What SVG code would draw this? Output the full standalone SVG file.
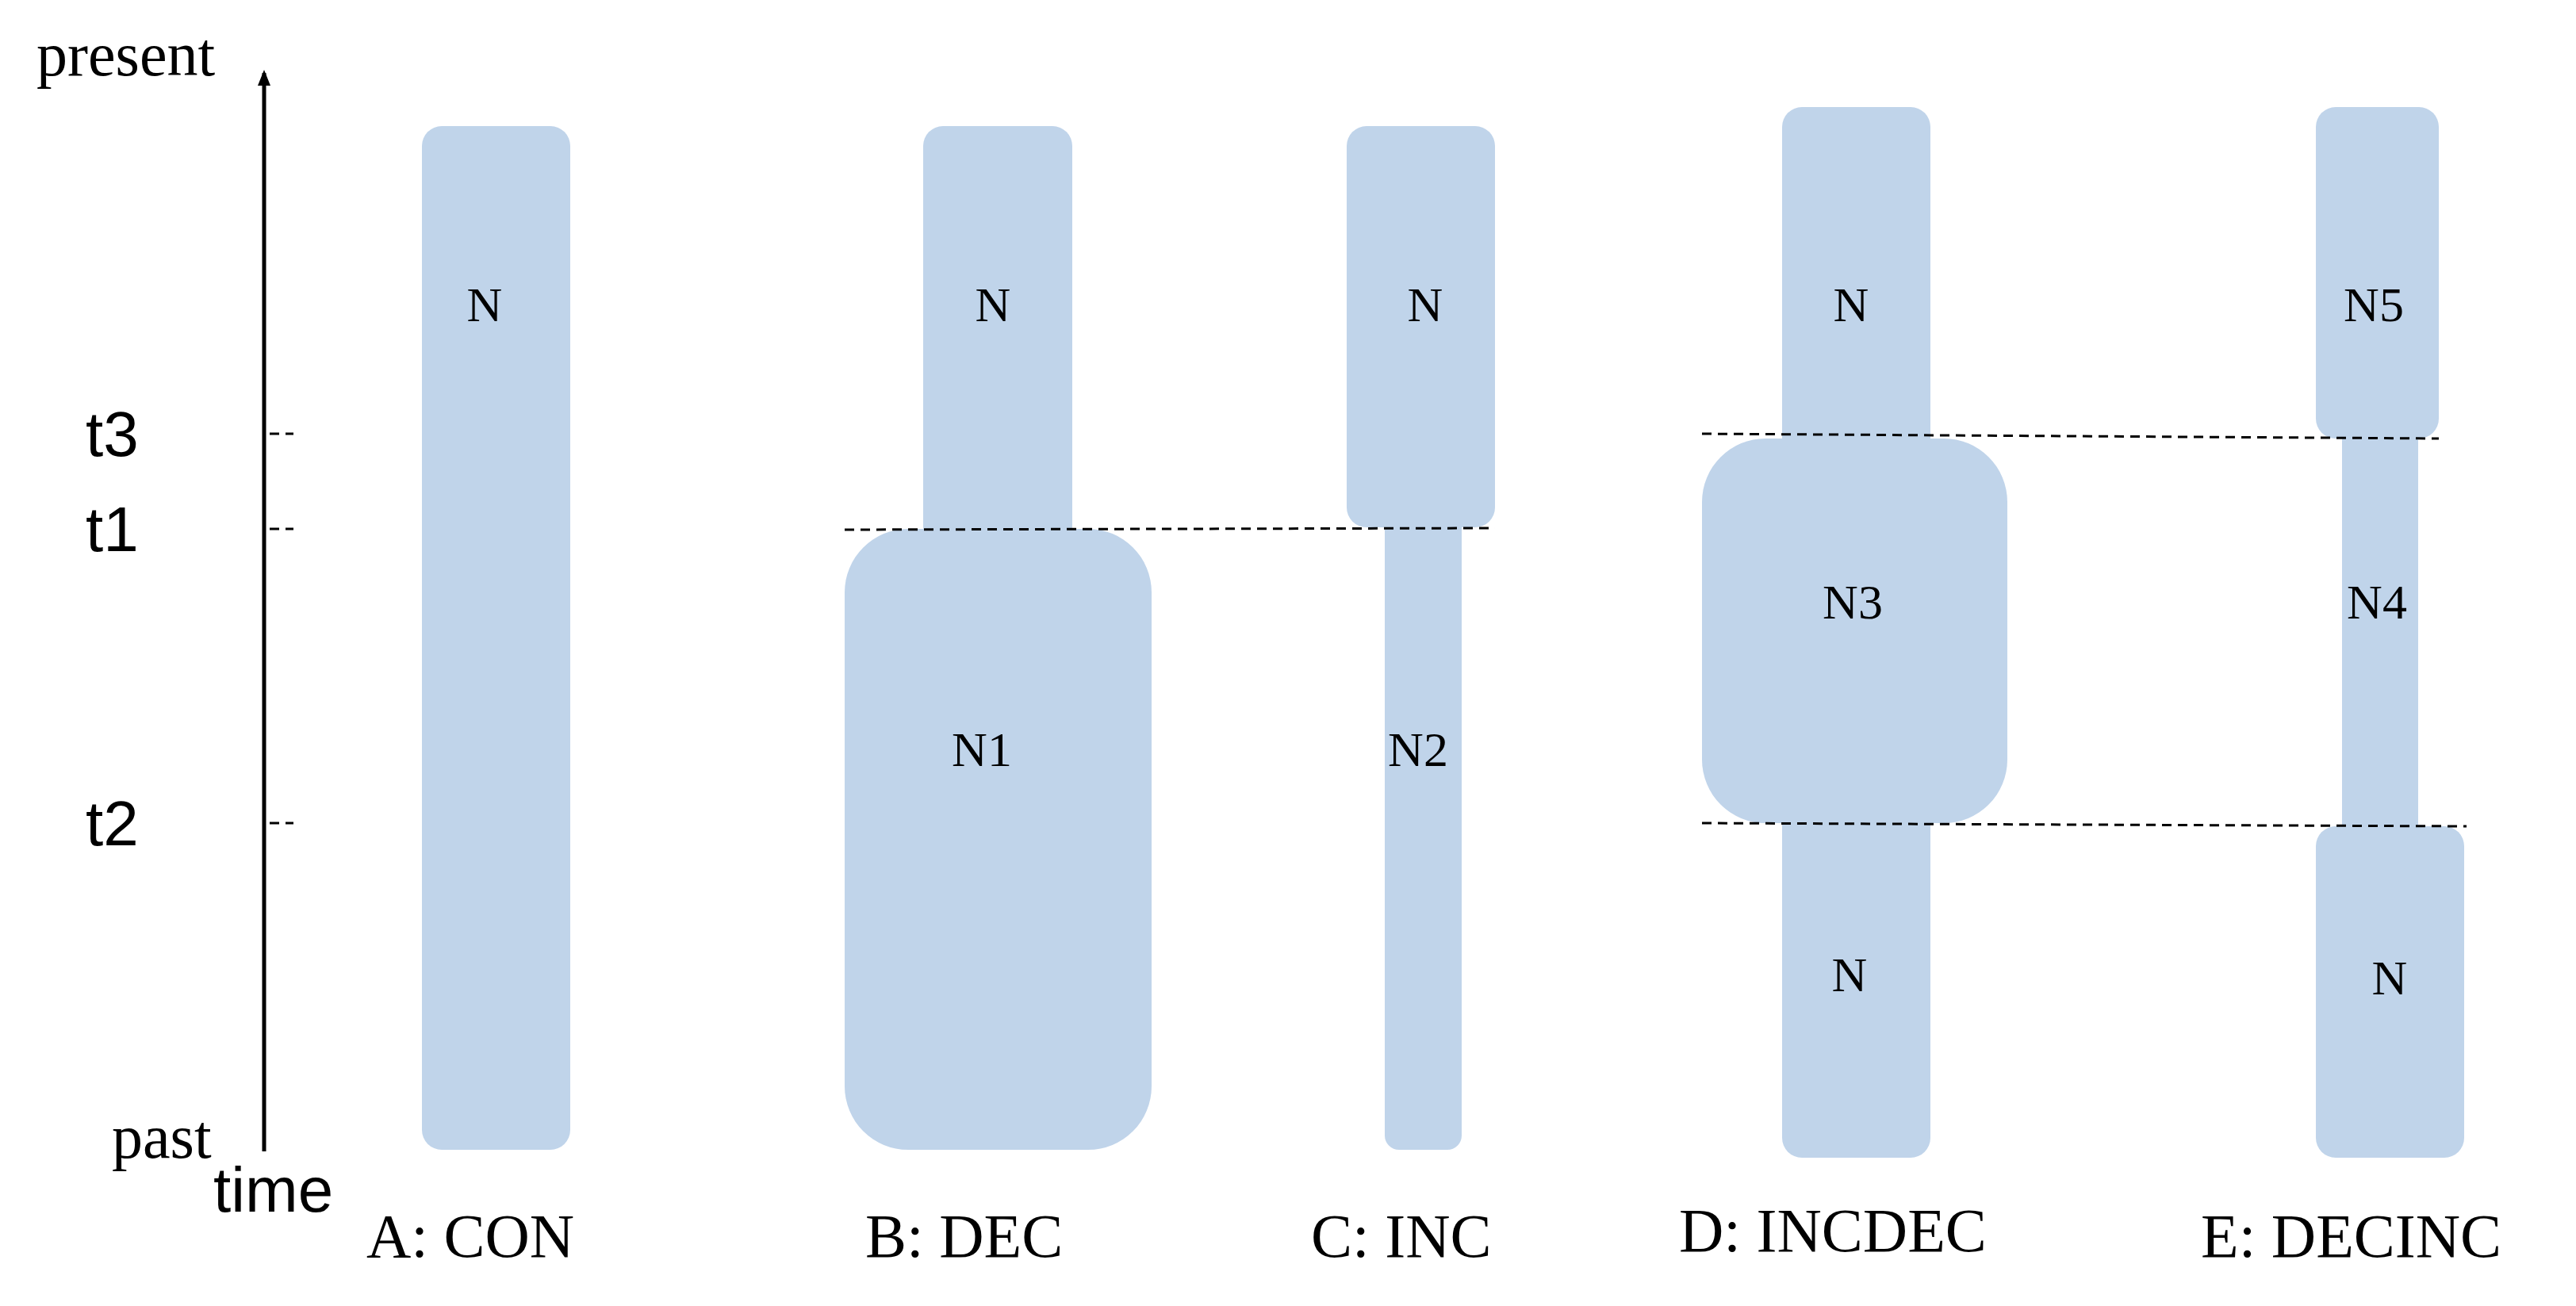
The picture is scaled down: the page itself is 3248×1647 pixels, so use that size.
<svg xmlns="http://www.w3.org/2000/svg" width="3248" height="1647" viewBox="0 0 3248 1647">
<defs>
<style>
.b{fill:#c0d4ea}
.n{font-family:"Liberation Serif",serif;font-size:62px;fill:#000;text-anchor:middle}
.c{font-family:"Liberation Serif",serif;font-size:78px;fill:#000}
.t{font-family:"Liberation Sans",sans-serif;font-size:80px;fill:#000}
.d{stroke:#000;stroke-width:3;stroke-dasharray:12 8;fill:none}
</style>
<marker id="ar" markerWidth="10" markerHeight="10" refX="5" refY="8" orient="auto" markerUnits="userSpaceOnUse" viewBox="0 0 10 10"><path d="M0,10 L5,0 L10,10 Z" fill="#000"/></marker>
</defs>
<rect width="3248" height="1647" fill="#fff"/>
<g id="axis">
<line x1="333" y1="1452" x2="333" y2="92" stroke="#000" stroke-width="5"/>
<path d="M325,108 L333,88 L341,108 Z" fill="#000"/>
<line x1="340" y1="547" x2="370" y2="547" class="d" stroke-dasharray="6 6"/>
<line x1="340" y1="667" x2="370" y2="667" class="d" stroke-dasharray="6 6"/>
<line x1="340" y1="1038" x2="370" y2="1038" class="d" stroke-dasharray="6 6"/>
<text x="46" y="95" class="c" font-size="72">present</text>
<text x="141" y="1460" class="c" font-size="72">past</text>
<text x="269" y="1528" class="t" font-size="72">time</text>
<text x="108" y="575" class="t">t3</text>
<text x="108" y="695" class="t">t1</text>
<text x="108" y="1066" class="t">t2</text>
</g>
<g id="A">
<rect class="b" x="532" y="159" width="187" height="1291" rx="25"/>
<text class="n" x="611" y="405">N</text>
<text class="c" x="462" y="1585">A: CON</text>
</g>
<g id="B">
<rect class="b" x="1164" y="159" width="188" height="530" rx="25"/>
<rect class="b" x="1065" y="667" width="387" height="783" rx="80"/>
<text class="n" x="1252" y="405">N</text>
<text class="n" x="1238" y="966">N1</text>
<text class="c" x="1091" y="1585">B: DEC</text>
</g>
<g id="C">
<rect class="b" x="1746" y="600" width="97" height="850" rx="18"/>
<rect class="b" x="1698" y="159" width="187" height="506" rx="25"/>
<text class="n" x="1797" y="405">N</text>
<text class="n" x="1788" y="966">N2</text>
<text class="c" x="1653" y="1585">C: INC</text>
</g>
<g id="D">
<rect class="b" x="2247" y="135" width="187" height="1325" rx="25"/>
<rect class="b" x="2146" y="553" width="385" height="485" rx="80"/>
<text class="n" x="2334" y="405">N</text>
<text class="n" x="2336" y="780">N3</text>
<text class="n" x="2332" y="1250">N</text>
<text class="c" x="2117" y="1578">D: INCDEC</text>
</g>
<g id="E">
<rect class="b" x="2953" y="500" width="96" height="600"/>
<rect class="b" x="2920" y="135" width="155" height="418" rx="25"/>
<rect class="b" x="2920" y="1042" width="187" height="418" rx="25"/>
<text class="n" x="2993" y="405">N5</text>
<text class="n" x="2997" y="780">N4</text>
<text class="n" x="3013" y="1254">N</text>
<text class="c" x="2775" y="1585">E: DECINC</text>
</g>
<g id="connectors">
<line class="d" x1="1065" y1="668" x2="1885" y2="666"/>
<line class="d" x1="2146" y1="547" x2="3075" y2="553"/>
<line class="d" x1="2146" y1="1038" x2="3110" y2="1042"/>
</g>
</svg>
